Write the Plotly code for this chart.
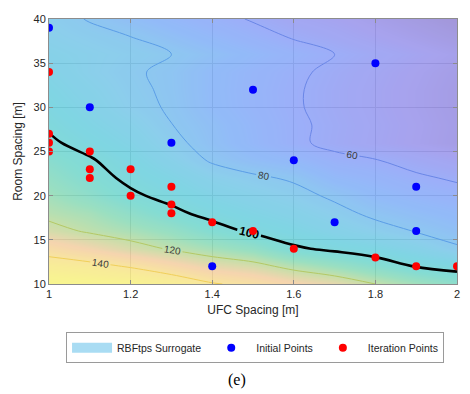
import plotly.graph_objects as go

# ---------------- data ----------------
ufc_grid = [1.0, 1.1, 1.2, 1.3, 1.4, 1.5, 1.6, 1.7, 1.8, 1.9, 2.0]
room_grid = [10, 12, 14, 16, 18, 20, 22, 24, 26, 28, 30, 32, 34, 36, 38, 40]
# surrogate surface values (rows: room spacing, cols: UFC spacing)
surrogate = [
    [156, 154, 153, 148, 141, 137, 131, 127, 120, 114, 108],
    [146, 143.5, 139, 133, 126.7, 123.4, 117, 111.7, 106, 99.5, 96.6],
    [135, 129.7, 124, 119, 114.5, 110, 101.5, 97.9, 94.5, 89.2, 81.5],
    [123.4, 118.7, 115, 110.6, 104, 98.3, 94, 89, 84.3, 79.4, 75],
    [117.3, 114.2, 108.1, 102.3, 97, 92.5, 88.5, 83.5, 77.5, 73.5, 69.9],
    [113.5, 108, 101.6, 97.2, 91.5, 87.4, 83.7, 78, 71.7, 67.6, 64.2],
    [109.7, 103.8, 97.9, 92.9, 86, 82, 78.5, 70, 66.4, 61.8, 58.5],
    [105.9, 101, 94.8, 87.3, 78.7, 73.5, 69.5, 62.8, 60.5, 56, 52],
    [101.5, 96.5, 91, 83, 75.3, 68.7, 62, 57.2, 53.2, 49.2, 45.2],
    [98.8, 93, 87.5, 80.2, 74.4, 68.1, 61.9, 57.6, 53.6, 49.6, 45.6],
    [96, 90, 83.5, 78.8, 71.9, 66.5, 61.1, 56.8, 52.8, 48.8, 44.8],
    [93.6, 88, 82.3, 78.2, 71.6, 66.3, 61.1, 56.8, 52.8, 48.8, 44.8],
    [91, 85.5, 81.3, 78, 71.7, 66.8, 62, 57.6, 53.6, 49.6, 45.6],
    [88.4, 85.6, 83, 80, 75, 70, 65, 60, 56, 52, 48],
    [85.8, 82.9, 80, 74.7, 69.5, 64.2, 59, 55.2, 51.2, 47.2, 43.2],
    [84, 79.3, 74, 69, 64, 59, 54, 51.2, 47.2, 43.2, 39.2],
]
contour_levels = [60, 80, 120, 140]
highlight_level = 100

initial_x = [1.0, 1.1, 1.3, 1.5, 1.8, 1.6, 1.9, 1.7, 1.9, 1.4]
initial_y = [39, 30, 26, 32, 35, 24, 21, 17, 16, 12]

iter_x = [1.0, 1.0, 1.0, 1.0, 1.1, 1.1, 1.1, 1.2, 1.2, 1.3, 1.3, 1.3, 1.4, 1.5, 1.6, 1.8, 1.9, 2.0]
iter_y = [34, 27, 26, 25, 25, 23, 22, 23, 20, 21, 19, 18, 17, 16, 14, 13, 12, 12]

x_ticks = [1, 1.2, 1.4, 1.6, 1.8, 2]
x_tick_labels = ["1", "1.2", "1.4", "1.6", "1.8", "2"]
y_ticks = [10, 15, 20, 25, 30, 35, 40]

# ---------------- styling ----------------
zmin, zmax = 39.0, 157.0
stops = [
    (39, "rgb(147,133,211)"),
    (50, "rgb(152,147,236)"),
    (62, "rgb(138,163,249)"),
    (72, "rgb(127,176,247)"),
    (84, "rgb(120,198,233)"),
    (95, "rgb(105,207,222)"),
    (104, "rgb(111,214,204)"),
    (112, "rgb(138,218,182)"),
    (120, "rgb(188,218,155)"),
    (130, "rgb(244,205,161)"),
    (142, "rgb(247,229,138)"),
    (157, "rgb(247,247,122)"),
]
colorscale = [[(v - zmin) / (zmax - zmin), c] for v, c in stops]
level_colors = {60: "#6a86e6", 80: "#5b9de6", 120: "#b4c866", 140: "#f0cf5a"}

axis_color = "#262626"
font_family = "Liberation Sans, Arial, Helvetica, sans-serif"

fig = go.Figure()

fig.add_trace(go.Heatmap(
    x=ufc_grid, y=room_grid, z=surrogate,
    colorscale=colorscale, zmin=zmin, zmax=zmax,
    zsmooth="best", opacity=0.85, showscale=False,
    hoverinfo="skip", showlegend=False,
))

for lv in contour_levels:
    fig.add_trace(go.Contour(
        x=ufc_grid, y=room_grid, z=surrogate,
        contours=dict(start=lv, end=lv, size=10, coloring="none",
                      showlabels=True,
                      labelfont=dict(size=10, color="#3a3a3a", family=font_family)),
        line=dict(color=level_colors[lv], width=1, smoothing=1),
        showscale=False, showlegend=False, hoverinfo="skip",
    ))

fig.add_trace(go.Contour(
    x=ufc_grid, y=room_grid, z=surrogate,
    contours=dict(start=highlight_level, end=highlight_level, size=10,
                  coloring="none", showlabels=True,
                  labelfont=dict(size=12, color="#000000", family=font_family,
                                 weight="bold")),
    line=dict(color="#000000", width=2.6, smoothing=1),
    showscale=False, showlegend=False, hoverinfo="skip",
))

# legend-only entry for surrogate
fig.add_trace(go.Scatter(
    x=[None], y=[None], mode="lines",
    line=dict(color="#a9dcf3", width=12),
    name="RBFtps Surrogate",
))

fig.add_trace(go.Scatter(
    x=initial_x, y=initial_y, mode="markers",
    marker=dict(color="#0000ff", size=8),
    name="Initial Points",
))
fig.add_trace(go.Scatter(
    x=iter_x, y=iter_y, mode="markers",
    marker=dict(color="#ff0000", size=8),
    name="Iteration Points",
))

fig.update_layout(
    width=470, height=394,
    margin=dict(l=49, r=13, t=19, b=110),
    paper_bgcolor="white", plot_bgcolor="white",
    font=dict(family=font_family, color=axis_color, size=11),
    showlegend=True,
    legend=dict(
        orientation="h", x=0.505, xanchor="center", y=-0.182, yanchor="top",
        bordercolor="#9a9a9a", borderwidth=1, bgcolor="white",
        font=dict(size=10.5, color=axis_color),
        itemclick=False, itemwidth=40,
        traceorder="normal",
    ),
    annotations=[dict(
        text="(e)", x=0.461, y=-0.362, xref="paper", yref="paper",
        showarrow=False, xanchor="center", yanchor="middle",
        font=dict(family="Liberation Serif, Times New Roman, serif", size=16, color="black"),
    )],
)

fig.update_xaxes(
    range=[1, 2], tickvals=x_ticks, ticktext=x_tick_labels,
    showgrid=True, gridcolor="#9a9a9a", gridwidth=1,
    showline=True, linecolor="#8c8c8c", linewidth=1, mirror="ticks",
    ticks="inside", ticklen=4, tickcolor="#8c8c8c",
    zeroline=False, tickfont=dict(size=11), automargin=False,
    title=dict(text="UFC Spacing [m]", font=dict(size=12), standoff=6),
)
fig.update_yaxes(
    range=[10, 40], tickvals=y_ticks,
    showgrid=True, gridcolor="#9a9a9a", gridwidth=1,
    showline=True, linecolor="#8c8c8c", linewidth=1, mirror="ticks",
    ticks="inside", ticklen=4, tickcolor="#8c8c8c",
    zeroline=False, tickfont=dict(size=11), automargin=False,
    title=dict(text="Room Spacing [m]", font=dict(size=12), standoff=8),
)

fig.write_html(
    "out.html",
    config={"displayModeBar": False},
    post_script="document.body.style.margin='0';document.body.style.padding='0';",
)
